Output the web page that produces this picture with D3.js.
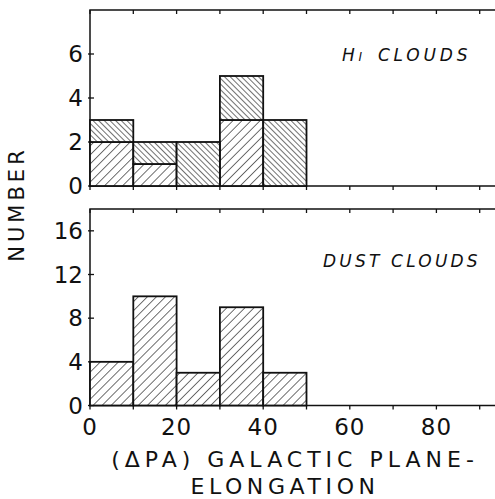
<!DOCTYPE html>
<html>
<head>
<meta charset="utf-8">
<script src="https://cdn.jsdelivr.net/npm/d3@7"></script>
<style>
  body { margin: 0; background: #fff; }
  svg { display: block; }
  text { font-family: "DejaVu Sans", sans-serif; fill: #111; }
</style>
</head>
<body>
<svg id="chart"></svg>
<script>
// bins of position-angle difference (deg), width 10
const binStarts = [0, 10, 20, 30, 40];
const binWidth = 10;
// HI clouds: two groups stacked ( "/" hatch below, "\" hatch on top )
const hiLower = [2, 1, 0, 3, 0];
const hiUpper = [1, 1, 2, 2, 3];
// dust clouds
const dustCounts = [4, 10, 3, 9, 3];

const xTicks = [0, 10, 20, 30, 40, 50, 60, 70, 80, 90];
const xTickLabels = [0, 20, 40, 60, 80];
const hiYTicks = [0, 2, 4, 6];
const dustYTicks = [0, 4, 8, 12, 16];

const W = 495, H = 499;
const svg = d3.select('#chart').attr('width', W).attr('height', H);

// x runs past the right edge of the picture (frame is cut off there)
const x = d3.scaleLinear().domain([0, 100]).range([90, 523]);

const defs = svg.append('defs');
function hatch(id, spacing, angle) {
  const p = defs.append('pattern')
    .attr('id', id)
    .attr('patternUnits', 'userSpaceOnUse')
    .attr('width', spacing).attr('height', spacing)
    .attr('patternTransform', `rotate(${angle})`);
  p.append('rect').attr('width', spacing).attr('height', spacing).attr('fill', '#fff');
  p.append('line').attr('x1', 0).attr('y1', -1).attr('x2', 0).attr('y2', spacing + 1)
    .attr('stroke', '#111').attr('stroke-width', 1.2);
}
hatch('fwd', 6.4, 45);   // "/"
hatch('back', 4.0, -45); // "\"

function panel(y0, y1, maxY, yTicks) {
  const y = d3.scaleLinear().domain([0, maxY]).range([y1, y0]);
  const g = svg.append('g');
  g.append('path')
    .attr('d', `M${W + 5},${y0}H${x(0)}V${y1}H${W + 5}`)
    .attr('fill', 'none').attr('stroke', '#111').attr('stroke-width', 1.5);
  // x ticks (top + bottom), pointing down
  g.selectAll('.tt').data(xTicks).join('line')
    .attr('x1', d => x(d)).attr('x2', d => x(d))
    .attr('y1', y0).attr('y2', y0 + 4)
    .attr('stroke', '#111').attr('stroke-width', 1.3);
  g.selectAll('.tb').data(xTicks).join('line')
    .attr('x1', d => x(d)).attr('x2', d => x(d))
    .attr('y1', y1).attr('y2', y1 + 4)
    .attr('stroke', '#111').attr('stroke-width', 1.3);
  // y ticks + labels
  g.selectAll('.yt').data(yTicks).join('line')
    .attr('x1', x(0) - 2).attr('x2', x(0) + 4)
    .attr('y1', d => y(d)).attr('y2', d => y(d))
    .attr('stroke', '#111').attr('stroke-width', 1.3);
  g.selectAll('.yl').data(yTicks).join('text')
    .attr('x', x(0) - 7).attr('y', d => y(d))
    .attr('dy', '0.36em')
    .attr('text-anchor', 'end')
    .attr('font-size', 23)
    .text(d => d);
  return { g, y };
}

// ---- top: HI clouds
const hiPanel = panel(10, 186, 8, hiYTicks);
const hiData = binStarts.map((b, i) => ({ b, lo: hiLower[i], hi: hiLower[i] + hiUpper[i] }));
hiPanel.g.selectAll('.lo').data(hiData.filter(d => d.lo > 0)).join('rect')
  .attr('x', d => x(d.b)).attr('width', d => x(d.b + binWidth) - x(d.b))
  .attr('y', d => hiPanel.y(d.lo)).attr('height', d => hiPanel.y(0) - hiPanel.y(d.lo))
  .attr('fill', 'url(#fwd)').attr('stroke', '#111').attr('stroke-width', 1.8);
hiPanel.g.selectAll('.up').data(hiData.filter(d => d.hi > d.lo)).join('rect')
  .attr('x', d => x(d.b)).attr('width', d => x(d.b + binWidth) - x(d.b))
  .attr('y', d => hiPanel.y(d.hi)).attr('height', d => hiPanel.y(d.lo) - hiPanel.y(d.hi))
  .attr('fill', 'url(#back)').attr('stroke', '#111').attr('stroke-width', 1.8);

const hiLab = hiPanel.g.append('text')
  .attr('x', 342).attr('y', 61)
  .attr('font-size', 17).attr('font-style', 'italic')
  .attr('letter-spacing', 3.8);
hiLab.append('tspan').text('H');
hiLab.append('tspan').attr('font-size', 12).text('I');
hiLab.append('tspan').attr('dx', 12).text('CLOUDS');

// ---- bottom: dust clouds
const dustPanel = panel(209, 405.5, 18, dustYTicks);
const dustData = binStarts.map((b, i) => ({ b, v: dustCounts[i] }));
dustPanel.g.selectAll('.bar').data(dustData).join('rect')
  .attr('x', d => x(d.b)).attr('width', d => x(d.b + binWidth) - x(d.b))
  .attr('y', d => dustPanel.y(d.v)).attr('height', d => dustPanel.y(0) - dustPanel.y(d.v))
  .attr('fill', 'url(#fwd)').attr('stroke', '#111').attr('stroke-width', 1.8);

dustPanel.g.append('text')
  .attr('x', 323).attr('y', 267)
  .attr('font-size', 17).attr('font-style', 'italic')
  .attr('letter-spacing', 3.2)
  .text('DUST CLOUDS');

// x tick labels
svg.selectAll('.xl').data(xTickLabels).join('text')
  .attr('x', d => x(d)).attr('y', 435)
  .attr('text-anchor', 'middle')
  .attr('font-size', 23).attr('letter-spacing', 1)
  .text(d => d);

// axis titles
svg.append('text')
  .attr('x', 295).attr('y', 467)
  .attr('text-anchor', 'middle')
  .attr('font-size', 22).attr('letter-spacing', 5)
  .text('(\u0394PA) GALACTIC PLANE-');
svg.append('text')
  .attr('x', 285).attr('y', 494)
  .attr('text-anchor', 'middle')
  .attr('font-size', 22).attr('letter-spacing', 4.6)
  .text('ELONGATION');
svg.append('text')
  .attr('transform', 'translate(24,204) rotate(-90)')
  .attr('text-anchor', 'middle')
  .attr('font-size', 21).attr('letter-spacing', 4)
  .text('NUMBER');
</script>
</body>
</html>
